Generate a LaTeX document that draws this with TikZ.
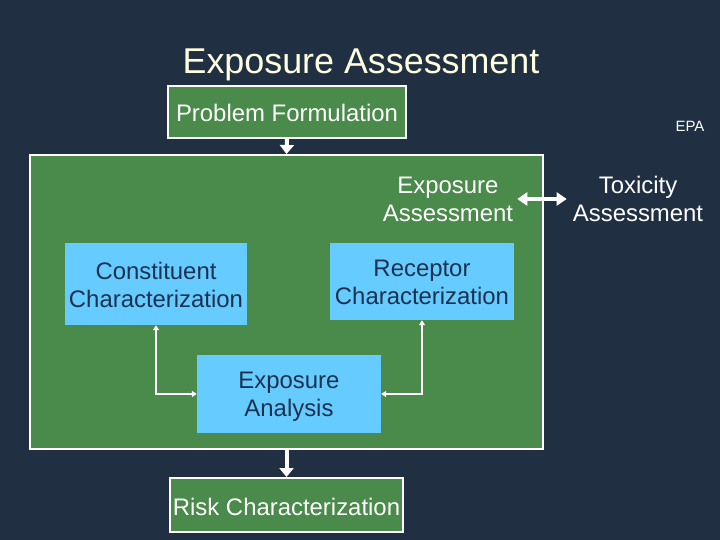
\documentclass[tikz,border=0pt]{standalone}
\usepackage{fontspec}
\setmainfont{Liberation Sans}
\usetikzlibrary{arrows.meta}
\definecolor{bgnavy}{RGB}{32,47,66}
\definecolor{boxgreen}{RGB}{74,138,74}
\definecolor{lightblue}{RGB}{102,204,255}
\definecolor{darktext}{RGB}{28,48,80}
\definecolor{titlecream}{RGB}{255,255,224}
\tikzset{
  greenbox/.style={draw=white, line width=2bp, fill=boxgreen, text=white, inner sep=0pt,
    font=\fontsize{24}{28}\selectfont, align=center},
  bluebox/.style={draw=none, fill=lightblue, text=darktext, inner sep=0pt,
    font=\fontsize{24}{28}\selectfont, align=center},
  boxtext/.style={inner sep=0pt, font=\fontsize{24}{28}\selectfont, align=center},
  plain/.style={text=white, inner sep=2bp, font=\fontsize{24}{28}\selectfont, align=center},
  bigarrow/.style={draw=white, line width=4bp, -{Triangle[width=14bp,length=9bp]}},
  dblarrow/.style={draw=white, line width=4bp, {Triangle[width=13bp,length=10bp]}-{Triangle[width=13bp,length=10bp]}},
  thinarrow/.style={draw=white, line width=2.5bp, {Triangle[width=6bp,length=5bp]}-{Triangle[width=6bp,length=5bp]}},
}
\begin{document}
\begin{tikzpicture}[x=1bp,y=-1bp]
\fill[bgnavy] (0,0) rectangle (720,540);
\useasboundingbox (0,0) rectangle (720,540);
\node[text=titlecream, font=\fontsize{36}{40}\selectfont] (title) at (361,65) {Exposure Assessment};
\node[greenbox, minimum width=238bp, minimum height=52bp] (pf) at (287,112) {};
\node[boxtext, text=white] (pft) at (287,113) {Problem Formulation};
\node[text=white, font=\fontsize{15}{18}\selectfont] (epa) at (690,126) {EPA};
\node[greenbox, minimum width=513bp, minimum height=294bp] (big) at (286.5,302) {};
\node[plain] (expa) at (448,199) {Exposure\\Assessment};
\node[plain] (tox) at (638,199) {Toxicity\\Assessment};
\node[bluebox, minimum width=182bp, minimum height=82bp] (cc) at (156,284) {};
\node[boxtext, text=darktext] (cct) at (156,285) {Constituent\\Characterization};
\node[bluebox, minimum width=184bp, minimum height=77bp] (rc) at (422,281.5) {};
\node[boxtext, text=darktext] (rct) at (422,282.5) {Receptor\\Characterization};
\node[bluebox, minimum width=184bp, minimum height=78bp] (ea) at (289,394) {};
\node[boxtext, text=darktext] (eat) at (289,397) {Exposure\\Analysis};
\node[greenbox, minimum width=233bp, minimum height=54bp] (rk) at (286.5,505) {};
\node[boxtext, text=white] (rkt) at (286.5,507) {Risk Characterization};
\draw[bigarrow] (pf.south) -- (big.north);
\draw[bigarrow] (big.south) -- (rk.north);
\draw[dblarrow, shorten <=2bp, shorten >=4bp] (expa.east) -- (tox.west);
\draw[thinarrow] (cc.south) |- (ea.west);
\draw[thinarrow] (rc.south) |- (ea.east);
\end{tikzpicture}
\end{document}
